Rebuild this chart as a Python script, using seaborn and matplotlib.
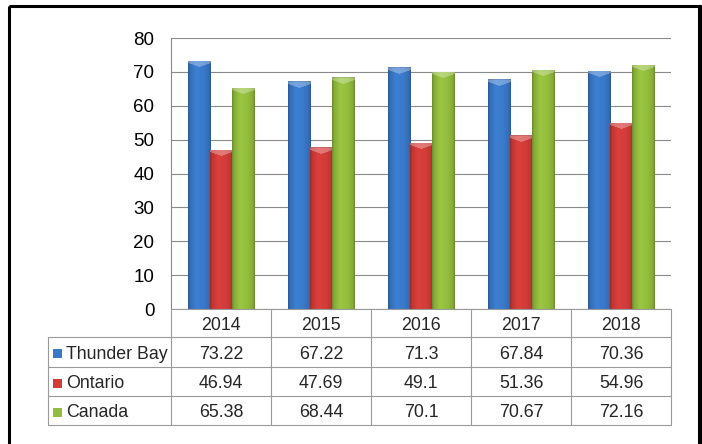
import numpy as np
import pandas as pd
import matplotlib
matplotlib.use("Agg")
import matplotlib.pyplot as plt
import seaborn as sns
from matplotlib.transforms import Affine2D, blended_transform_factory
from matplotlib.lines import Line2D
from matplotlib.patches import Rectangle
from matplotlib.colors import to_rgb

years = ["2014", "2015", "2016", "2017", "2018"]
regions = ["Thunder Bay", "Ontario", "Canada"]
thunder_bay = [73.22, 67.22, 71.3, 67.84, 70.36]
ontario = [46.94, 47.69, 49.1, 51.36, 54.96]
canada = [65.38, 68.44, 70.1, 70.67, 72.16]
y_ticks = [0, 10, 20, 30, 40, 50, 60, 70, 80]

colors = ["#3a79c9", "#d13c39", "#93bd3e"]

series = [thunder_bay, ontario, canada]
df = pd.DataFrame({
    "year": np.repeat([years], len(regions), axis=0).ravel(),
    "region": np.repeat(regions, len(years)),
    "value": np.concatenate(series),
})

sns.set_theme(style="white")
plt.rcParams["font.family"] = ["Liberation Sans", "DejaVu Sans"]

W, H = 702, 444
fig = plt.figure(figsize=(W / 100, H / 100), dpi=100)
ax = fig.add_axes([171 / W, (H - 309) / H, 500 / W, 271 / H])

sns.barplot(data=df, x="year", y="value", hue="region", hue_order=regions,
            order=years, palette=colors, width=0.67, ax=ax, legend=False,
            saturation=1, edgecolor="none", linewidth=0, zorder=3)

ax.set_ylim(0, 80)
ax.set_xlim(-0.5, len(years) - 0.5)
ax.set_yticks(y_ticks)
ax.set_yticklabels([str(t) for t in y_ticks], fontsize=13.5, color="black")
ax.set_xticks([])
ax.set_xlabel("")
ax.set_ylabel("")
ax.tick_params(axis="y", length=0, pad=12)
ax.grid(axis="y", color="#8a8a8a", linewidth=0.8, zorder=0)
ax.set_axisbelow(True)
for side in ["top", "right", "bottom"]:
    ax.spines[side].set_visible(False)
ax.spines["left"].set_color("#8a8a8a")
ax.spines["left"].set_linewidth(0.8)

px_per_unit = 271 / 80.0


def shaded_image(base, bar_px_h, cols=40):
    """Cylinder-like horizontal shading with a bright bevelled cap."""
    rgb = np.array(to_rgb(base))
    t = np.linspace(0, 1, cols)
    prof = np.interp(t, [0, 0.08, 0.35, 0.7, 0.92, 1.0],
                     [0.74, 0.9, 1.05, 1.0, 0.9, 0.74])
    rows = max(int(round(bar_px_h)), 2)
    img = np.tile((rgb[None, :] * prof[:, None])[None, :, :], (rows, 1, 1))
    depth = 2.5 + 4 * (1 - np.abs(2 * t - 1))
    r = np.arange(rows)[:, None]
    cap = r < depth[None, :]
    lighter = img * 0.7 + 0.3
    img = np.where(cap[:, :, None], lighter, img)
    img[0, :, :] = img[0, :, :] * 0.88
    return np.clip(img, 0, 1)


base_rgbs = [np.array(to_rgb(c)) for c in colors]
for patch in list(ax.patches):
    fc = np.array(patch.get_facecolor()[:3])
    k = int(np.argmin([np.abs(fc - b).sum() for b in base_rgbs]))
    x0, y0 = patch.get_x(), patch.get_y()
    w, h = patch.get_width(), patch.get_height()
    img = shaded_image(colors[k], h * px_per_unit)
    im = ax.imshow(img, extent=[x0, x0 + w, y0, y0 + h], aspect="auto",
                   origin="upper", zorder=4, interpolation="bilinear")
    im.set_clip_path(patch)

ax.set_xlim(-0.5, len(years) - 0.5)
ax.set_ylim(0, 80)

# pixel-coordinate transforms (y grows downward)
pix = Affine2D().scale(1 / W, -1 / H).translate(0, 1) + fig.transFigure
colx = blended_transform_factory(ax.transData, pix)

line_c = "#9a9a9a"
lw = 0.8
row_y = [309, 337, 367, 396, 425]
label_left = 48

# horizontal table lines
fig.add_artist(Line2D([-0.5, len(years) - 0.5], [row_y[0]] * 2,
                      transform=colx, color=line_c, lw=lw))
for yy in row_y[1:]:
    fig.add_artist(Line2D([label_left, 671], [yy, yy], transform=pix,
                          color=line_c, lw=lw))
# vertical table lines
for i in range(len(years) + 1):
    fig.add_artist(Line2D([i - 0.5, i - 0.5], [row_y[0], row_y[-1]],
                          transform=colx, color=line_c, lw=lw))
fig.add_artist(Line2D([label_left, label_left], [row_y[1], row_y[-1]],
                      transform=pix, color=line_c, lw=lw))

fs = 12.8
for i, yr in enumerate(years):
    fig.text(i, (row_y[0] + row_y[1]) / 2 + 2, yr, transform=colx,
             ha="center", va="center", fontsize=fs)

for r, (name, vals) in enumerate(zip(regions, series)):
    yc = (row_y[r + 1] + row_y[r + 2]) / 2 + 2
    # legend key
    fig.add_artist(Rectangle((53, yc - 5), 9, 9, transform=pix,
                             facecolor=colors[r], edgecolor="none"))
    fig.text(66, yc, name, transform=pix, ha="left", va="center", fontsize=fs)
    for i, v in enumerate(vals):
        fig.text(i, yc, f"{v:g}", transform=colx, ha="center", va="center",
                 fontsize=fs)

# outer frame
fig.add_artist(Rectangle((8.5, 6), 690, 450, transform=pix, fill=False,
                         edgecolor="black", lw=2.2))
fig.add_artist(Line2D([699.5, 699.5], [6, 444], transform=pix,
                      color="black", lw=2.5))

fig.savefig("out.png", dpi=100)
